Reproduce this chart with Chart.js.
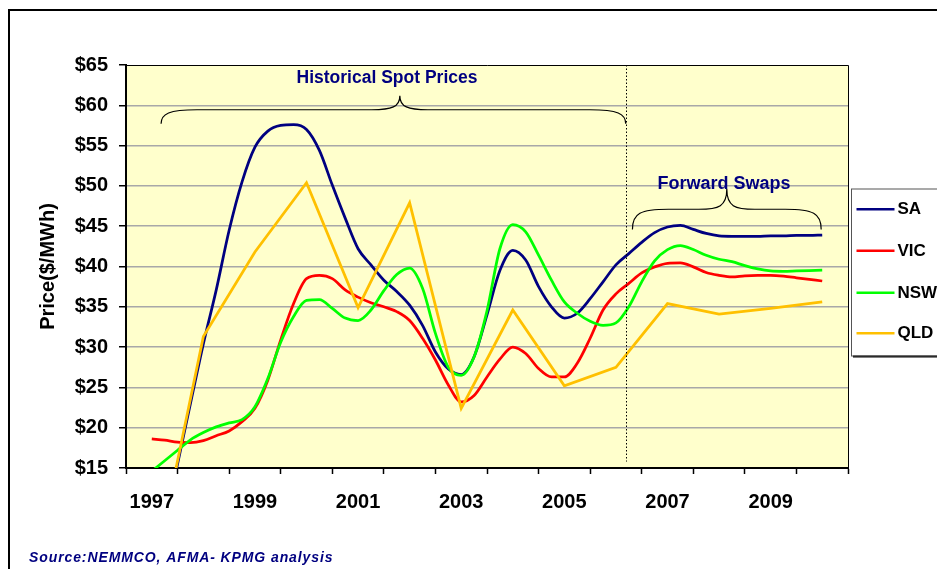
<!DOCTYPE html>
<html>
<head>
<meta charset="utf-8">
<script src="https://cdn.jsdelivr.net/npm/chart.js@4.4.1/dist/chart.umd.min.js"></script>
<style>
html,body{margin:0;padding:0;background:#fff;}
#wrap{position:relative;width:937px;height:569px;overflow:hidden;}
</style>
</head>
<body>
<div id="wrap"><canvas id="c" width="937" height="569"></canvas></div>
<script>
// ---- data ----
const CATEGORIES = ['1997','1998','1999','2000','2001','2002','2003','2004','2005','2006','2007','2008','2009','2010'];
const SHOWN_LABELS = ['1997','1999','2001','2003','2005','2007','2009'];
const QUARTERS = [1997,1997.25,1997.5,1997.75,1998,1998.25,1998.5,1998.75,1999,1999.25,1999.5,1999.75,
  2000,2000.25,2000.5,2000.75,2001,2001.25,2001.5,2001.75,2002,2002.25,2002.5,2002.75,
  2003,2003.25,2003.5,2003.75,2004,2004.25,2004.5,2004.75,2005,2005.25,2005.5,2005.75,
  2006,2006.25,2006.5,2006.75,2007,2007.25,2007.5,2007.75,2008,2008.25,2008.5,2008.75,
  2009,2009.25,2009.5,2009.75,2010];
const SA = [0.5,8,15.5,23.0,30.4,37.1,44.5,50.5,54.8,56.8,57.5,57.6,
  57.0,54.4,50.1,46.0,42.2,40.2,38.3,36.9,35.2,32.7,29.4,27.3,
  26.6,28.8,34.0,39.5,42.0,40.8,37.5,35.0,33.6,34.2,36.0,38.1,
  40.2,41.6,43.0,44.2,44.9,45.1,44.6,44.1,43.8,43.75,43.75,43.75,
  43.8,43.8,43.85,43.85,43.9];
const VIC = [18.6,18.45,18.2,18.15,18.4,19.0,19.6,20.75,22.4,25.9,30.9,35.4,
  38.5,38.9,38.5,37.1,36.2,35.5,35.0,34.4,33.3,31.1,28.4,25.3,
  23.2,24.0,26.3,28.5,30.0,29.2,27.35,26.3,26.3,28.0,31.1,34.6,
  36.6,37.9,39.2,39.95,40.4,40.45,39.95,39.25,38.9,38.7,38.85,38.9,
  38.9,38.8,38.6,38.4,38.2];
const NSW = [14.6,15.9,17.2,18.5,19.4,20.1,20.6,21.0,22.6,26.1,30.6,33.8,
  35.8,35.9,34.8,33.6,33.3,34.6,37.0,39.0,39.8,37.3,31.7,27.5,
  26.5,28.8,34.5,42.2,45.2,44.3,41.4,38.3,35.6,34.2,33.2,32.7,
  33.0,35.0,38.1,40.7,42.1,42.6,42.1,41.4,40.9,40.6,40.1,39.7,
  39.45,39.4,39.45,39.5,39.55];
const YEARS = [1997,1998,1999,2000,2001,2002,2003,2004,2005,2006,2007,2008,2009,2010];
const QLD = [0.5,31.3,41.8,50.4,34.9,47.9,22.4,34.6,25.2,27.5,35.4,34.1,34.8,35.6];
const SERIES_NAMES = ['SA','VIC','NSW','QLD'];
const SERIES_COLORS = ['#000080','#FF0000','#00FF00','#FFC000'];
const Y_MIN = 15, Y_MAX = 65, Y_STEP = 5;
const DIVIDER_YEAR = 2006.19;
const TITLE_HIST = 'Historical Spot Prices';
const TITLE_FWD = 'Forward Swaps';
const SOURCE = 'Source:NEMMCO, AFMA- KPMG analysis';
const Y_TITLE = 'Price($/MWh)';

const FONT = '"Liberation Sans", Arial, sans-serif';
const NAVY = '#000080';

function pts(xs, ys){ return xs.map((x,i)=>({x:x, y:ys[i]})); }

const seriesData = [pts(QUARTERS,SA), pts(QUARTERS,VIC), pts(QUARTERS,NSW), pts(YEARS,QLD)];

const datasets = SERIES_NAMES.map((n,i)=>({
  label:n,
  data:seriesData[i],
  xAxisID:'xl',
  yAxisID:'y',
  borderColor:SERIES_COLORS[i],
  backgroundColor:SERIES_COLORS[i],
  borderWidth:2.75,
  pointRadius:0,
  fill:false,
  cubicInterpolationMode: n==='QLD' ? 'default' : 'monotone',
  tension: 0,
  order: 4-i
}));

const decor = {
  id:'decor',
  beforeDraw(chart){
    const {ctx, chartArea:a} = chart;
    ctx.save();
    ctx.fillStyle='#FFFFCC';
    ctx.fillRect(a.left,a.top,a.right-a.left,a.bottom-a.top);
    ctx.restore();
  },
  afterDraw(chart){
    const {ctx, chartArea:a} = chart;
    const xs = chart.scales.xl, ys = chart.scales.y;
    ctx.save();
    // top/right plot border
    ctx.strokeStyle='#000'; ctx.lineWidth=1;
    ctx.beginPath();
    ctx.moveTo(a.left,a.top+0.5); ctx.lineTo(a.right+0.5,a.top+0.5); ctx.lineTo(a.right+0.5,a.bottom);
    ctx.stroke();
    // divider dotted line
    const dx = Math.round(xs.getPixelForValue(DIVIDER_YEAR))+0.5;
    ctx.setLineDash([1.5,2]);
    ctx.beginPath();
    ctx.moveTo(dx,a.top); ctx.lineTo(dx, ys.getPixelForValue(15.8));
    ctx.stroke();
    ctx.setLineDash([]);
    // braces
    function brace(x1,x2,xp,yEnd,yLine,yPeak){
      const r = 36, rp = 28;
      ctx.beginPath();
      ctx.moveTo(x1,yEnd);
      ctx.bezierCurveTo(x1,yLine+4, x1+8,yLine, x1+r,yLine);
      ctx.lineTo(xp-rp,yLine);
      ctx.bezierCurveTo(xp-8,yLine, xp,yLine-3, xp,yPeak);
      ctx.bezierCurveTo(xp,yLine-3, xp+8,yLine, xp+rp,yLine);
      ctx.lineTo(x2-r,yLine);
      ctx.bezierCurveTo(x2-8,yLine, x2,yLine+4, x2,yEnd);
      ctx.stroke();
    }
    ctx.strokeStyle='#000'; ctx.lineWidth=1.2;
    brace(xs.getPixelForValue(1997.18), xs.getPixelForValue(DIVIDER_YEAR), xs.getPixelForValue(2001.81),
          ys.getPixelForValue(57.7), ys.getPixelForValue(59.45), ys.getPixelForValue(61.2));
    brace(xs.getPixelForValue(2006.32), xs.getPixelForValue(2009.98), xs.getPixelForValue(2008.15),
          ys.getPixelForValue(44.6), ys.getPixelForValue(47.1), ys.getPixelForValue(49.6));
    // annotation titles
    ctx.fillStyle=NAVY;
    ctx.textAlign='center'; ctx.textBaseline='middle';
    ctx.font='bold 17.5px '+FONT;
    ctx.fillText(TITLE_HIST, 387, 78);
    ctx.font='bold 18px '+FONT;
    ctx.fillText(TITLE_FWD, 724, 184);
    // legend
    const lx=851, ly=188.5, lw=120, lh=167;
    ctx.fillStyle='#fff';
    ctx.fillRect(lx,ly,lw,lh);
    ctx.strokeStyle='#000'; ctx.lineWidth=2;
    ctx.beginPath(); ctx.moveTo(lx+2,ly+lh+1); ctx.lineTo(lx+lw,ly+lh+1); ctx.stroke();
    ctx.strokeStyle='#555'; ctx.lineWidth=1;
    ctx.strokeRect(lx+0.5,ly+0.5,lw,lh);
    const rows=[209.3,250.7,292.7,333.3];
    ctx.font='bold 17px '+FONT;
    ctx.textAlign='left'; ctx.textBaseline='middle';
    SERIES_NAMES.forEach((n,i)=>{
      ctx.strokeStyle=SERIES_COLORS[i]; ctx.lineWidth=2.5;
      ctx.beginPath(); ctx.moveTo(856.5,rows[i]); ctx.lineTo(894.5,rows[i]); ctx.stroke();
      ctx.fillStyle='#000';
      ctx.fillText(n, 897.5, rows[i]+0.5);
    });
    // source
    ctx.fillStyle=NAVY;
    ctx.font='italic bold 14px '+FONT;
    try { ctx.letterSpacing = '0.9px'; } catch(e) {}
    ctx.fillText(SOURCE, 29, 558);
    try { ctx.letterSpacing = '0px'; } catch(e) {}
    // outer frame
    ctx.strokeStyle='#000'; ctx.lineWidth=2;
    ctx.strokeRect(9,10,1100,700);
    ctx.restore();
  }
};

new Chart(document.getElementById('c'), {
  type:'line',
  data:{ labels:CATEGORIES, datasets:datasets },
  options:{
    responsive:false,
    animation:false,
    devicePixelRatio:1,
    layout:{ padding:{left:0, top:65, right:89, bottom:0} },
    plugins:{ legend:{display:false}, tooltip:{enabled:false} },
    scales:{
      x:{
        type:'category',
        position:'bottom',
        offset:true,
        afterFit(s){ s.height = 101; },
        grid:{ offset:true, drawOnChartArea:false, drawTicks:true, tickLength:6, tickColor:'#000', tickWidth:1.5, color:'#000' },
        border:{ display:true, color:'#000', width:2 },
        ticks:{
          autoSkip:false, maxRotation:0, minRotation:0, padding:16,
          color:'#000', font:{family:FONT, size:20, weight:'bold'},
          callback(v,i){ const l = CATEGORIES[i]; return SHOWN_LABELS.includes(l) ? l : ''; }
        }
      },
      xl:{
        type:'linear', display:false, position:'bottom',
        min:1996.5, max:2010.5
      },
      y:{
        type:'linear', position:'left', min:Y_MIN, max:Y_MAX,
        afterFit(s){ s.width = 126; },
        grid:{
          color(ctx){ const v = ctx.tick && ctx.tick.value; return (v===Y_MIN||v===Y_MAX) ? 'rgba(0,0,0,0)' : '#a8a8a8'; },
          lineWidth:1.5, drawTicks:true, tickLength:7, tickColor:'#000', tickWidth:1.5
        },
        border:{ display:true, color:'#000', width:2 },
        ticks:{
          stepSize:Y_STEP, padding:11, color:'#000',
          font:{family:FONT, size:20, weight:'bold'},
          callback(v){ return '$'+v; }
        },
        title:{
          display:true, text:Y_TITLE, color:'#000',
          font:{family:FONT, size:20, weight:'bold'},
          padding:{top:36, bottom:0}
        }
      }
    }
  },
  plugins:[decor]
});
</script>
</body>
</html>
